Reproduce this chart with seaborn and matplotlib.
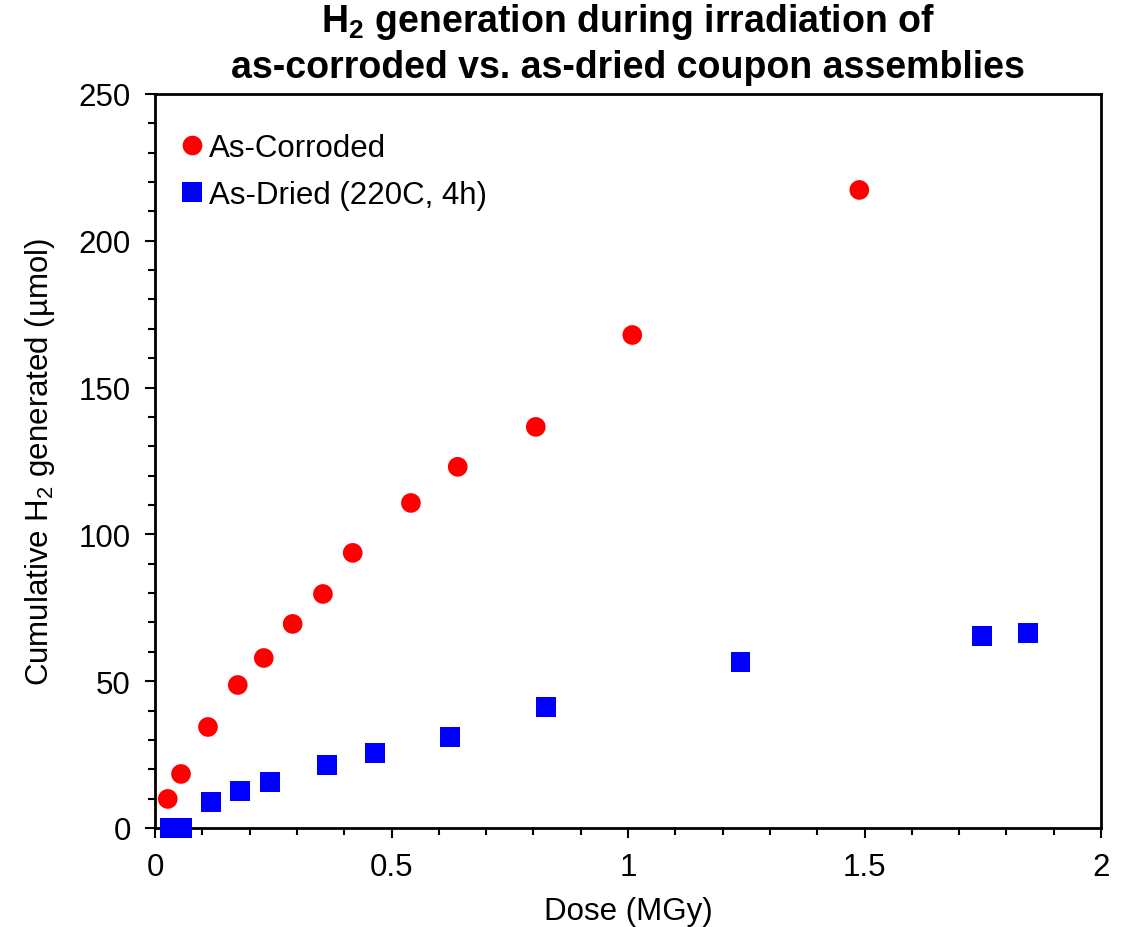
import pandas as pd
import numpy as np
import matplotlib
matplotlib.use("Agg")
import matplotlib.pyplot as plt
import seaborn as sns
from matplotlib.ticker import MultipleLocator, FuncFormatter

# As-corroded coupons
corroded_dose = [0.027, 0.055, 0.112, 0.175, 0.230, 0.291, 0.355, 0.418, 0.541, 0.640, 0.805, 1.009, 1.489]
corroded_h2 = [9.9, 18.4, 34.4, 48.7, 57.9, 69.5, 79.7, 93.7, 110.7, 123.0, 136.6, 167.9, 217.3]

# As-dried coupons (220C, 4h)
dried_dose = [0.032, 0.057, 0.118, 0.180, 0.243, 0.363, 0.465, 0.623, 0.826, 1.238, 1.749, 1.846]
dried_h2 = [0.0, 0.0, 8.9, 12.6, 15.7, 21.5, 25.5, 31.0, 41.2, 56.5, 65.4, 66.4]

labels = ["As-Corroded", "As-Dried (220C, 4h)"]

df = pd.concat([
    pd.DataFrame({"dose": corroded_dose, "h2": corroded_h2, "sample": labels[0]}),
    pd.DataFrame({"dose": dried_dose, "h2": dried_h2, "sample": labels[1]}),
])

sns.set_style("ticks")
plt.rcParams['font.family'] = ['Liberation Sans', 'DejaVu Sans']
plt.rcParams['mathtext.fontset'] = 'custom'
plt.rcParams['mathtext.rm'] = 'Liberation Sans'
plt.rcParams['mathtext.bf'] = 'Liberation Sans:bold'
plt.rcParams['mathtext.default'] = 'regular'
plt.rcParams['text.color'] = 'black'
plt.rcParams['axes.labelcolor'] = 'black'
plt.rcParams['xtick.color'] = 'black'
plt.rcParams['ytick.color'] = 'black'

fig = plt.figure(figsize=(11.33, 9.28), dpi=100)
ax = fig.add_axes([0.1368, 0.1067, 0.835, 0.791])

sns.scatterplot(data=df, x="dose", y="h2", hue="sample", style="sample",
                palette={labels[0]: "#ff0000", labels[1]: "#0000ff"},
                markers={labels[0]: "o", labels[1]: "s"},
                s=200, linewidth=0, ax=ax, clip_on=False, zorder=3)

ax.set_xlim(0, 2)
ax.set_ylim(0, 250)
ax.xaxis.set_major_locator(MultipleLocator(0.5))
ax.xaxis.set_minor_locator(MultipleLocator(0.1))
ax.yaxis.set_major_locator(MultipleLocator(50))
ax.yaxis.set_minor_locator(MultipleLocator(10))
ax.xaxis.set_major_formatter(FuncFormatter(lambda v, p: f"{v:g}"))
ax.tick_params(which="major", length=7, width=1.5, labelsize=22.5, direction="out", pad=10.5)
ax.tick_params(which="minor", length=5, width=1.5, direction="out")
for sp in ax.spines.values():
    sp.set_linewidth(2)
    sp.set_color("black")

ax.set_xlabel("Dose (MGy)", fontsize=22.5, labelpad=10)
ax.set_ylabel("Cumulative H$_2$ generated (µmol)", fontsize=22.5, labelpad=15.5)
ax.set_title("H$_2$ generation during irradiation of\nas-corroded vs. as-dried coupon assemblies",
             fontsize=27, fontweight="bold", linespacing=1.3, pad=12)

leg = ax.legend(loc="upper left", bbox_to_anchor=(0.0112, 0.9638), frameon=False,
                fontsize=22.5, handletextpad=0.1, handlelength=0.9, borderaxespad=0,
                labelspacing=0.55, title=None)

fig.savefig("out.png", dpi=100)
